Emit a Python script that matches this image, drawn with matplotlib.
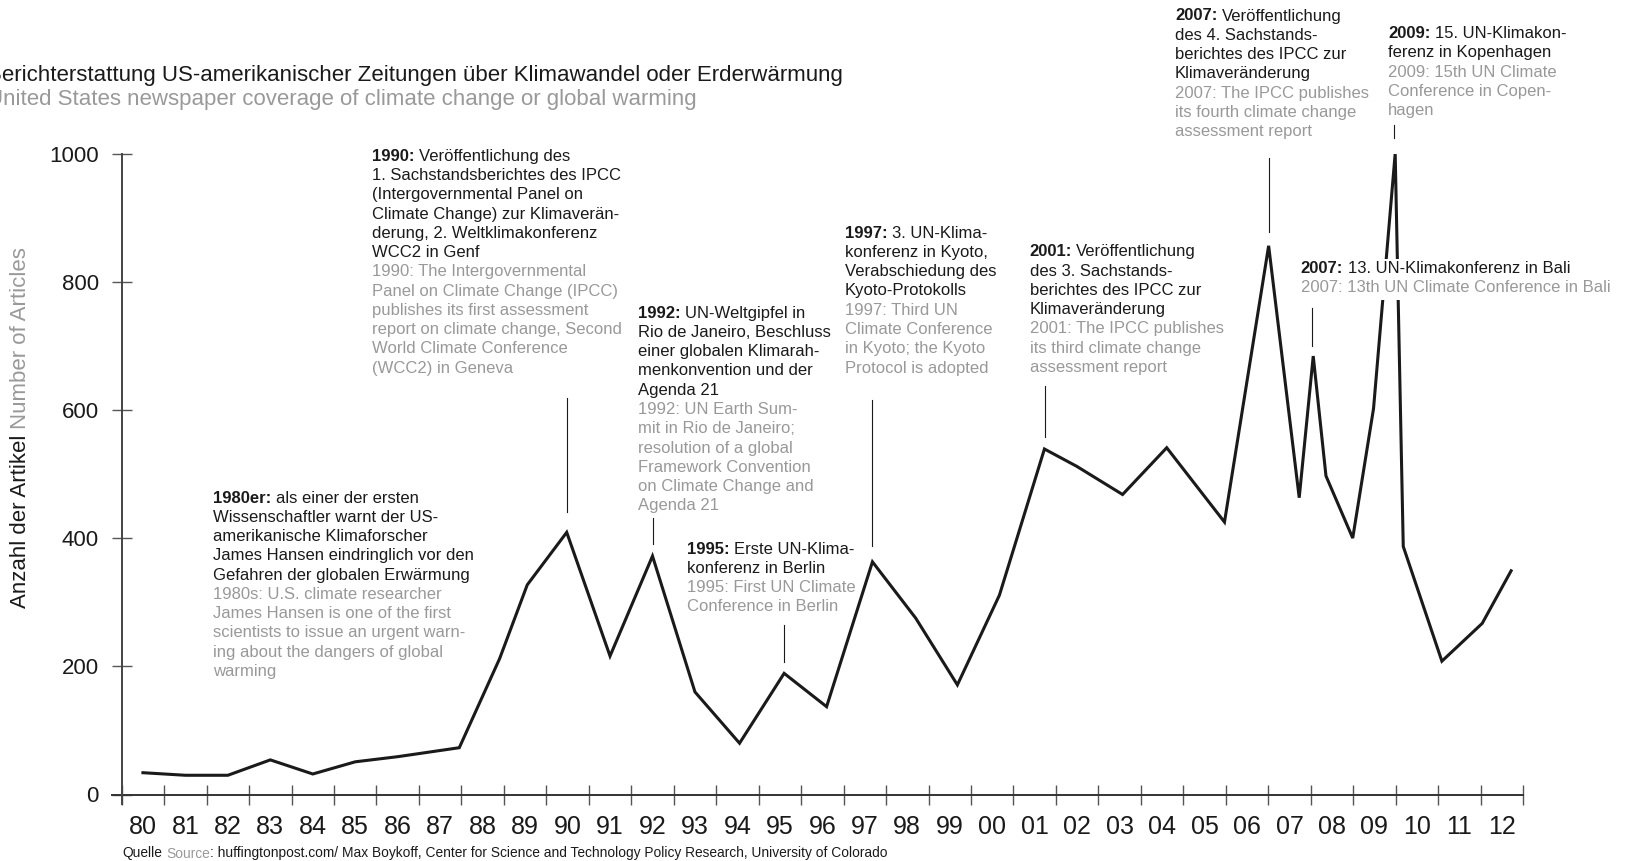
import matplotlib
matplotlib.use('Agg')
import matplotlib.pyplot as plt
from matplotlib.patches import Rectangle

W, H = 1629, 861

# articles per period, x as fractional year
years = [1980.5, 1981.5, 1982.5, 1983.5, 1984.5, 1985.5, 1986.5, 1987.95,
         1988.9, 1989.55, 1990.48, 1991.5, 1992.5, 1993.5, 1994.55, 1995.6,
         1996.6, 1997.68, 1998.7, 1999.68, 2000.67, 2001.73, 2002.49, 2003.57,
         2004.61, 2005.97, 2007.01, 2007.73, 2008.06, 2008.36, 2008.99, 2009.48,
         2009.99, 2010.18, 2011.09, 2012.04, 2012.72]
articles = [34, 30, 30, 54, 32, 51, 59, 73,
            212, 327, 409, 216, 372, 160, 80, 189,
            137, 363, 275, 171, 311, 539, 512, 468,
            541, 425, 856, 463, 684, 497, 400, 602,
            1000, 387, 208, 267, 349]

tick_years = list(range(1980, 2014))
year_labels = ['80', '81', '82', '83', '84', '85', '86', '87', '88', '89',
               '90', '91', '92', '93', '94', '95', '96', '97', '98', '99',
               '00', '01', '02', '03', '04', '05', '06', '07', '08', '09',
               '10', '11', '12']
y_ticks = [0, 200, 400, 600, 800, 1000]

# event markers: x, top, bottom (in article units)
markers = [(1990.49, 618, 440), (1992.52, 431, 391), (1995.59, 264, 207),
           (1997.66, 616, 387), (2001.75, 637, 557), (2007.01, 993, 877),
           (2008.04, 759, 699), (2009.96, 1045, 1024)]

# event notes: left px, first line px, bold year, rest of first line, german lines, english lines
notes = [
    (213, 496.6, "1980er:", "als einer der ersten",
     ["Wissenschaftler warnt der US-", "amerikanische Klimaforscher",
      "James Hansen eindringlich vor den", "Gefahren der globalen Erwärmung"],
     ["1980s: U.S. climate researcher", "James Hansen is one of the first",
      "scientists to issue an urgent warn-", "ing about the dangers of global",
      "warming"]),
    (372, 154.8, "1990:", "Veröffentlichung des",
     ["1. Sachstandsberichtes des IPCC", "(Intergovernmental Panel on",
      "Climate Change) zur Klimaverän-", "derung, 2. Weltklimakonferenz",
      "WCC2 in Genf"],
     ["1990: The Intergovernmental", "Panel on Climate Change (IPCC)",
      "publishes its first assessment", "report on climate change, Second",
      "World Climate Conference", "(WCC2) in Geneva"]),
    (638, 311.7, "1992:", "UN-Weltgipfel in",
     ["Rio de Janeiro, Beschluss", "einer globalen Klimarah-",
      "menkonvention und der", "Agenda 21"],
     ["1992: UN Earth Sum-", "mit in Rio de Janeiro;", "resolution of a global",
      "Framework Convention", "on Climate Change and", "Agenda 21"]),
    (686.7, 547.5, "1995:", "Erste UN-Klima-",
     ["konferenz in Berlin"],
     ["1995: First UN Climate", "Conference in Berlin"]),
    (844.6, 231.7, "1997:", "3. UN-Klima-",
     ["konferenz in Kyoto,", "Verabschiedung des", "Kyoto-Protokolls"],
     ["1997: Third UN", "Climate Conference", "in Kyoto; the Kyoto",
      "Protocol is adopted"]),
    (1029.5, 250.4, "2001:", "Veröffentlichung",
     ["des 3. Sachstands-", "berichtes des IPCC zur", "Klimaveränderung"],
     ["2001: The IPCC publishes", "its third climate change", "assessment report"]),
    (1175, 14.5, "2007:", "Veröffentlichung",
     ["des 4. Sachstands-", "berichtes des IPCC zur", "Klimaveränderung"],
     ["2007: The IPCC publishes", "its fourth climate change", "assessment report"]),
    (1388, 32.2, "2009:", "15. UN-Klimakon-",
     ["ferenz in Kopenhagen"],
     ["2009: 15th UN Climate", "Conference in Copen-", "hagen"]),
    (1300.7, 267, "2007:", "13. UN-Klimakonferenz in Bali",
     [],
     ["2007: 13th UN Climate Conference in Bali"]),
]

BLACK = '#1a1a1a'
GREY = '#999999'
SANS = ['Liberation Sans', 'DejaVu Sans']
NOTE_SIZE = 12
LINE_STEP = 19.26

fig = plt.figure(figsize=(W / 100, H / 100), dpi=100)
renderer = fig.canvas.get_renderer()

x0, x1 = 121.7, 1523.0
y0, y1 = 794.5, 153.5
ax = fig.add_axes([x0 / W, 1 - y0 / H, (x1 - x0) / W, (y0 - y1) / H])
ax.set_xlim(1980, 2013)
ax.set_ylim(0, 1000)

ax.plot(years, articles, color=BLACK, lw=2.2, solid_joinstyle='miter', zorder=3)

for mx, top, bottom in markers:
    ax.plot([mx, mx], [bottom, top], color=BLACK, lw=0.8, clip_on=False)

# axis lines drawn by hand so they run past the origin
for s in ax.spines.values():
    s.set_visible(False)
ax.plot([1979.76, 2013], [0, 0], color='#333333', lw=1.4, clip_on=False, zorder=2)
ax.plot([1980, 1980], [-15, 1000], color='#444444', lw=1.4, clip_on=False, zorder=2)

ax.set_xticks(tick_years)
ax.set_xticklabels([])
ax.set_xticks([y + 0.5 for y in tick_years[:-1]], minor=True)
ax.set_xticklabels(year_labels, minor=True, fontfamily=SANS, fontsize=18, color=BLACK)
ax.tick_params(axis='x', which='major', direction='inout', length=14, width=1, color='#555555')
ax.tick_params(axis='x', which='minor', length=0, pad=15)

ax.set_yticks(y_ticks)
ax.set_yticklabels([str(v) for v in y_ticks], fontfamily=SANS, fontsize=16, color=BLACK)
ax.tick_params(axis='y', direction='inout', length=15, width=1, color='#555555', pad=9)
ax.patch.set_visible(False)


def rich(x, y, parts, size, family, vertical=False):
    # draws a row of differently styled pieces; a trailing space means a gap
    pos = y if vertical else x
    step = -1 if vertical else 1
    for text, color, weight in parts:
        gap = text.endswith(' ')
        text = text.rstrip(' ')
        if vertical:
            t = fig.text(x / W, 1 - pos / H, text, rotation=90, rotation_mode='anchor',
                         ha='left', va='center_baseline', color=color,
                         fontweight=weight, fontsize=size, fontfamily=family, zorder=5)
            pos -= t.get_window_extent(renderer).height
        else:
            t = fig.text(pos / W, 1 - y / H, text, ha='left', va='center_baseline',
                         color=color, fontweight=weight, fontsize=size,
                         fontfamily=family, zorder=5)
            pos += t.get_window_extent(renderer).width
        if gap:
            pos += step * 0.27 * size * 100 / 72


# white box under the Bali note so the line stops around it
fig.patches.append(Rectangle((1297 / W, 1 - 300 / H), 320 / W, 41 / H,
                             transform=fig.transFigure, facecolor='white',
                             edgecolor='none', zorder=4))

for nx, ny, bold, first, german, english in notes:
    rich(nx, ny, [(bold + ' ', BLACK, 'bold'), (first, BLACK, 'normal')], NOTE_SIZE, SANS)
    for i, line in enumerate(german + english, start=1):
        color = BLACK if i <= len(german) else GREY
        fig.text(nx / W, 1 - (ny + i * LINE_STEP) / H, line, ha='left',
                 va='center_baseline', color=color, fontsize=NOTE_SIZE,
                 fontfamily=SANS, zorder=5)

# titles run off the left edge
fig.text(-13 / W, 1 - 72.7 / H,
         "Berichterstattung US-amerikanischer Zeitungen über Klimawandel oder Erderwärmung",
         ha='left', va='center_baseline', color=BLACK, fontsize=16, fontfamily=SANS)
fig.text(-13 / W, 1 - 96.6 / H,
         "United States newspaper coverage of climate change or global warming",
         ha='left', va='center_baseline', color=GREY, fontsize=16, fontfamily=SANS)

rich(17.7, 608, [("Anzahl der Artikel ", BLACK, 'normal'), ("Number of Articles", GREY, 'normal')],
     16, SANS, vertical=True)

rich(122.6, 852, [("Quelle ", BLACK, 'normal'), ("Source", GREY, 'normal'),
                  (": huffingtonpost.com/ Max Boykoff, Center for Science and Technology "
                   "Policy Research, University of Colorado", BLACK, 'normal')],
     9.9, SANS)

fig.savefig('out.png', dpi=100, facecolor='white')
